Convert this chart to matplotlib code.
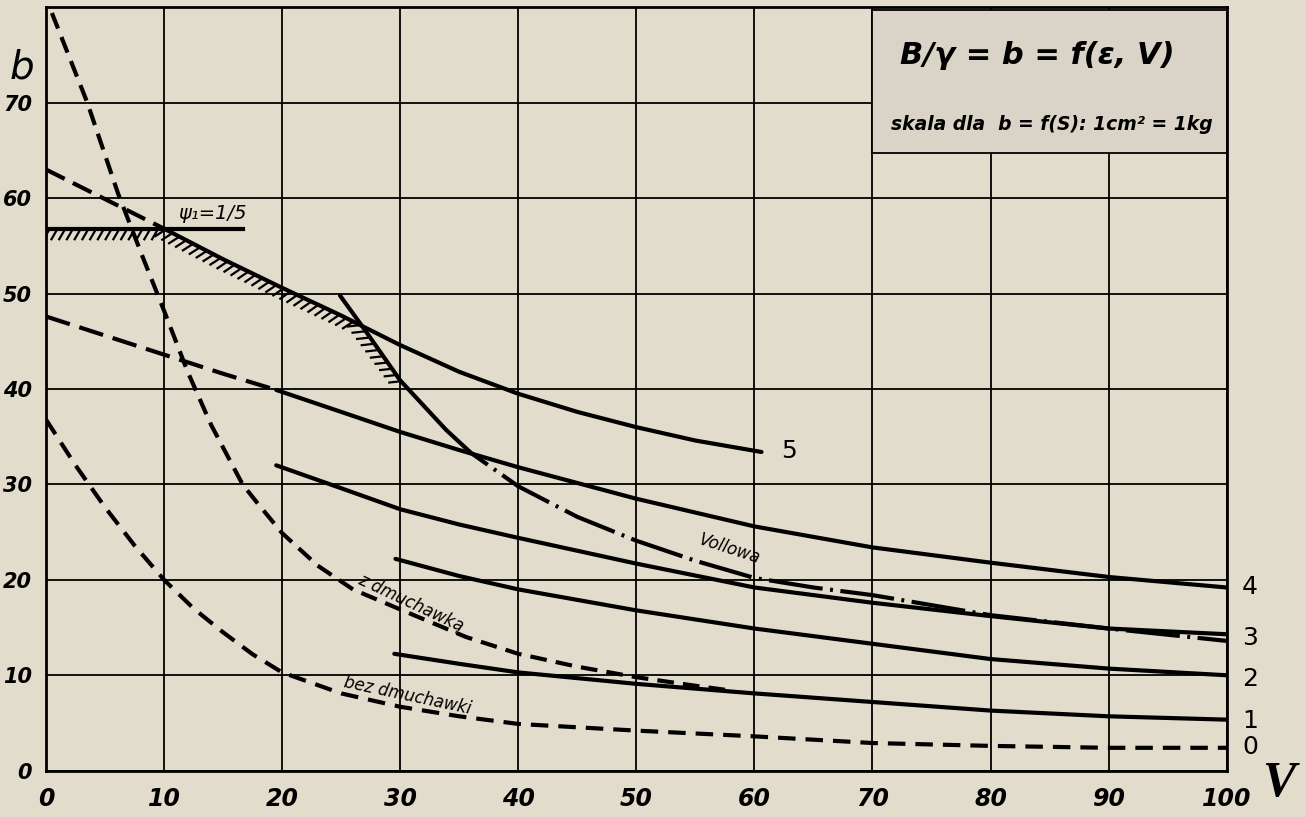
import matplotlib
matplotlib.use('Agg')
import matplotlib.pyplot as plt
import matplotlib.patheffects as pe
from matplotlib.patches import Rectangle

# ---------------- data ----------------
x_ticks = [0, 10, 20, 30, 40, 50, 60, 70, 80, 90, 100]
x_tick_labels = ['0', '10', '20', '30', '40', '50', '60', '70', '80', '90', '100']
y_ticks = [0, 10, 20, 30, 40, 50, 60, 70, 80]
y_tick_labels = ['0', '10', '20', '30', '40', '50', '60', '70', '']

# curve 5
c5_dash_x = [0, 5, 10]
c5_dash_y = [63.0, 59.9, 56.8]
c5_x = [10, 15, 20, 25, 30, 35, 40, 45, 50, 55, 60.6]
c5_y = [56.8, 53.6, 50.6, 47.7, 44.6, 41.8, 39.5, 37.6, 36.0, 34.6, 33.4]

# curve 4
c4_dash_x = [0, 5, 10, 15, 19.5]
c4_dash_y = [47.6, 45.6, 43.6, 41.6, 39.9]
c4_x = [19.5, 25, 30, 35, 40, 50, 60, 70, 80, 90, 100]
c4_y = [39.9, 37.6, 35.5, 33.6, 31.8, 28.5, 25.6, 23.4, 21.8, 20.3, 19.2]

# curve 3
c3_x = [19.5, 25, 30, 35, 40, 50, 60, 70, 80, 90, 100]
c3_y = [32.0, 29.6, 27.4, 25.8, 24.4, 21.7, 19.2, 17.6, 16.2, 14.9, 14.3]

# curve 2
c2_x = [29.6, 35, 40, 50, 60, 70, 80, 90, 100]
c2_y = [22.2, 20.4, 19.0, 16.8, 14.9, 13.3, 11.7, 10.7, 10.0]

# curve 1
c1_x = [29.5, 35, 40, 50, 60, 70, 80, 90, 100]
c1_y = [12.25, 11.2, 10.3, 9.1, 8.1, 7.2, 6.3, 5.7, 5.35]

# curve 0 (bez dmuchawki)
c0_x = [0, 2.5, 5, 7.5, 10, 12.5, 15, 17.5, 20, 25, 30, 35, 40, 50, 60, 70, 80, 90, 100]
c0_y = [36.8, 32.0, 27.6, 23.6, 20.0, 17.0, 14.5, 12.2, 10.3, 8.1, 6.7, 5.7, 4.9, 4.2, 3.6,
        2.9, 2.6, 2.4, 2.4]

# z dmuchawką
zd_x = [0.5, 3.5, 6.1, 8.2, 10, 12, 14, 16.65, 18, 20, 23, 26, 30, 35.6, 40, 45, 50, 55, 58]
zd_y = [79.4, 70.0, 60.5, 53.8, 48.2, 41.8, 36.2, 30.0, 27.9, 24.9, 21.5, 19.0, 16.9, 14.0,
        12.25, 10.9, 9.8, 8.9, 8.4]

# Vollowa (steep line, solid start then dash-dot)
vo_solid_x = [24.9, 27, 30, 33.9]
vo_solid_y = [49.8, 46.2, 40.9, 35.7]
vo_x = [33.9, 36, 40, 45, 50, 55, 60, 65, 70, 80, 90, 100]
vo_y = [35.7, 33.3, 29.8, 26.6, 24.1, 22.0, 20.2, 19.2, 18.4, 16.3, 14.9, 13.6]

# psi line and hatched boundary
psi_x = [0, 16.7]
psi_y = [56.8, 56.8]
hatch_x = [0, 10, 15, 20, 25, 26.6, 30.3]
hatch_y = [56.8, 56.8, 53.6, 50.6, 47.7, 46.7, 40.5]

# curve end labels
end_labels = ['5', '4', '3', '2', '1', '0']
end_label_x = [62.3, 101.3, 101.3, 101.3, 101.3, 101.3]
end_label_y = [33.5, 19.2, 13.9, 9.6, 5.2, 2.5]

# ---------------- figure ----------------
BG = '#e2dccc'
BOX = '#d9d4c7'
fig = plt.figure(figsize=(13.06, 8.17), dpi=100, facecolor=BG)
ax = fig.add_axes([46 / 1306, 46.3 / 817, (1226.7 - 46) / 1306, (770.7 - 7.3) / 817])
ax.set_facecolor(BG)
ax.set_xlim(0, 100)
ax.set_ylim(0, 79.7)

tick_font = dict(family='DejaVu Sans', weight='bold', style='italic')
ax.set_xticks(x_ticks)
ax.set_xticklabels(x_tick_labels, fontsize=17, **tick_font)
ax.set_yticks(y_ticks)
ax.set_yticklabels(y_tick_labels, fontsize=15, **tick_font)
ax.tick_params(axis='x', length=0, pad=12)
ax.tick_params(axis='y', length=0, pad=10)
ax.grid(True, color='k', lw=1.3)
ax.set_axisbelow(True)
for s in ax.spines.values():
    s.set_linewidth(2.0)
    s.set_color('k')

# title box
ax.add_patch(Rectangle((70, 64.7), 30, 15.0, facecolor=BOX, edgecolor='k', lw=1.3, zorder=1.5))
ax.text(84.0, 75.0, 'B/γ = b = f(ε, V)', fontsize=22, weight='bold', style='italic',
        ha='center', va='center', zorder=5)
ax.text(85.2, 67.7, 'skala dla  b = f(S): 1cm² = 1kg', fontsize=13.5, weight='bold',
        style='italic', ha='center', va='center', zorder=5)

lw = 3.0
K = 'k'
# curve 5
ax.plot(c5_dash_x, c5_dash_y, color=K, lw=lw, dashes=(5, 2.2), zorder=3)
ax.plot(c5_x, c5_y, color=K, lw=lw, zorder=3, solid_capstyle='round')
# curve 4
ax.plot(c4_dash_x, c4_dash_y, color=K, lw=lw, dashes=(6, 2.4), zorder=3)
ax.plot(c4_x, c4_y, color=K, lw=lw, zorder=3, solid_capstyle='round')
# curves 3, 2, 1
for xs, ys in [(c3_x, c3_y), (c2_x, c2_y), (c1_x, c1_y)]:
    ax.plot(xs, ys, color=K, lw=lw, zorder=3, solid_capstyle='round')
# curve 0
ax.plot(c0_x, c0_y, color=K, lw=lw, dashes=(4.2, 2.4), zorder=3)
# z dmuchawka
ax.plot(zd_x, zd_y, color=K, lw=lw, dashes=(4.0, 2.2), zorder=3)
# Vollowa
ax.plot(vo_solid_x, vo_solid_y, color=K, lw=lw, zorder=3, solid_capstyle='round')
ax.plot(vo_x, vo_y, color=K, lw=lw, dashes=(13, 1.8, 0.7, 1.8), zorder=3)
# psi line
ax.plot(psi_x, psi_y, color=K, lw=lw, zorder=3)
# hatching
ax.plot(hatch_x, hatch_y, color='none', lw=0, zorder=3,
        path_effects=[pe.withTickedStroke(angle=-120, spacing=5.5, length=1.6,
                                          linewidth=1.6, foreground='k')])

# labels
lab_font = dict(family='DejaVu Sans', style='italic')
ax.text(14.1, 58.4, 'ψ₁=1/5', fontsize=14, ha='center', va='center', zorder=5, **lab_font)
ax.text(30.9, 17.6, 'z dmuchawką', fontsize=12, rotation=-25, ha='center', va='center',
        rotation_mode='anchor', zorder=5, **lab_font)
ax.text(30.6, 7.9, 'bez dmuchawki', fontsize=12, rotation=-12, ha='center', va='center',
        rotation_mode='anchor', zorder=5, **lab_font)
ax.text(57.9, 23.2, 'Vollowa', fontsize=12, rotation=-18, ha='center', va='center',
        rotation_mode='anchor', zorder=5, **lab_font)

for t, x, y in zip(end_labels, end_label_x, end_label_y):
    ax.text(x, y, t, fontsize=18, ha='left', va='center', zorder=5, clip_on=False,
            family='DejaVu Sans')

ax.text(-2.0, 73.7, 'b', fontsize=28, style='italic', ha='center', va='center',
        clip_on=False, family='DejaVu Sans')
ax.text(104.4, -1.4, 'V', fontsize=36, style='italic', weight='bold', ha='center',
        va='center', clip_on=False, family='Liberation Serif')

fig.savefig('out.png', dpi=100, facecolor=BG)
